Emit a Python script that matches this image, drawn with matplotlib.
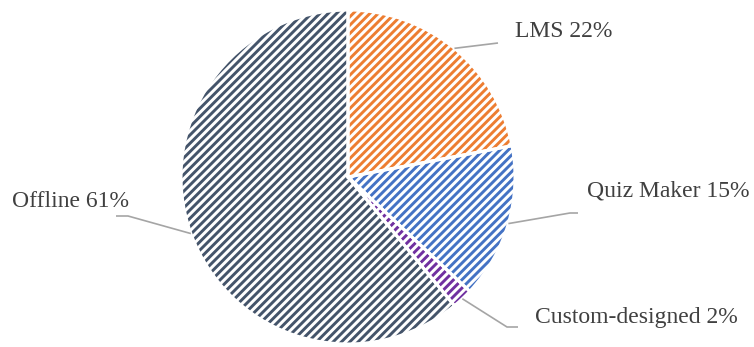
import numpy as np
import matplotlib
matplotlib.use("Agg")
import matplotlib.pyplot as plt

labels = ["LMS", "Quiz Maker", "Custom-designed", "Offline"]
values = [22, 15, 2, 61]
colors = ["#ED7D31", "#4472C4", "#7030A0", "#44546A"]

W, H = 754, 347
plt.rcParams['hatch.linewidth'] = 2.1
fig = plt.figure(figsize=(W / 100, H / 100), dpi=100)
ax = fig.add_axes([0, 0, 1, 1])

cx, cy, r = 348, H - 177, 167
wedges, _ = ax.pie(values, colors=["white"] * 4, startangle=90, counterclock=False,
                   center=(cx, cy), radius=r, frame=True,
                   wedgeprops=dict(linewidth=0))
for w, c in zip(wedges, colors):
    w.set_hatch('////')
    w.set_edgecolor(c)
    w.set_facecolor('white')
    w.set_linewidth(0)
ax.pie(values, colors=["none"] * 4, startangle=90, counterclock=False,
       center=(cx, cy), radius=r, frame=True,
       wedgeprops=dict(linewidth=2.2, edgecolor='white', fill=False))
ax.set_xlim(0, W)
ax.set_ylim(0, H)
ax.set_aspect('equal')
ax.axis('off')

text_pos = [(515, H - 31), (587, H - 191), (535, H - 318), (12, H - 201)]
elbows = [[(498, H - 43)], [(570, H - 213), (578, H - 213)],
          [(507, H - 327), (518, H - 327)], [(128, H - 216), (116, H - 216)]]

total = sum(values)
start = 90.0
for v, lab, (tx, ty), el in zip(values, labels, text_pos, elbows):
    ang = start - v / total * 360 / 2
    start -= v / total * 360
    px = cx + r * np.cos(np.radians(ang))
    py = cy + r * np.sin(np.radians(ang))
    xs = [px] + [e[0] for e in el]
    ys = [py] + [e[1] for e in el]
    ax.plot(xs, ys, color='#A5A5A5', lw=1.2, solid_capstyle='butt')
    ax.text(tx, ty, f"{lab} {v}%", ha='left', va='center',
            fontsize=17, family='Liberation Serif', color='#404040')

fig.savefig("out.png", dpi=100)
